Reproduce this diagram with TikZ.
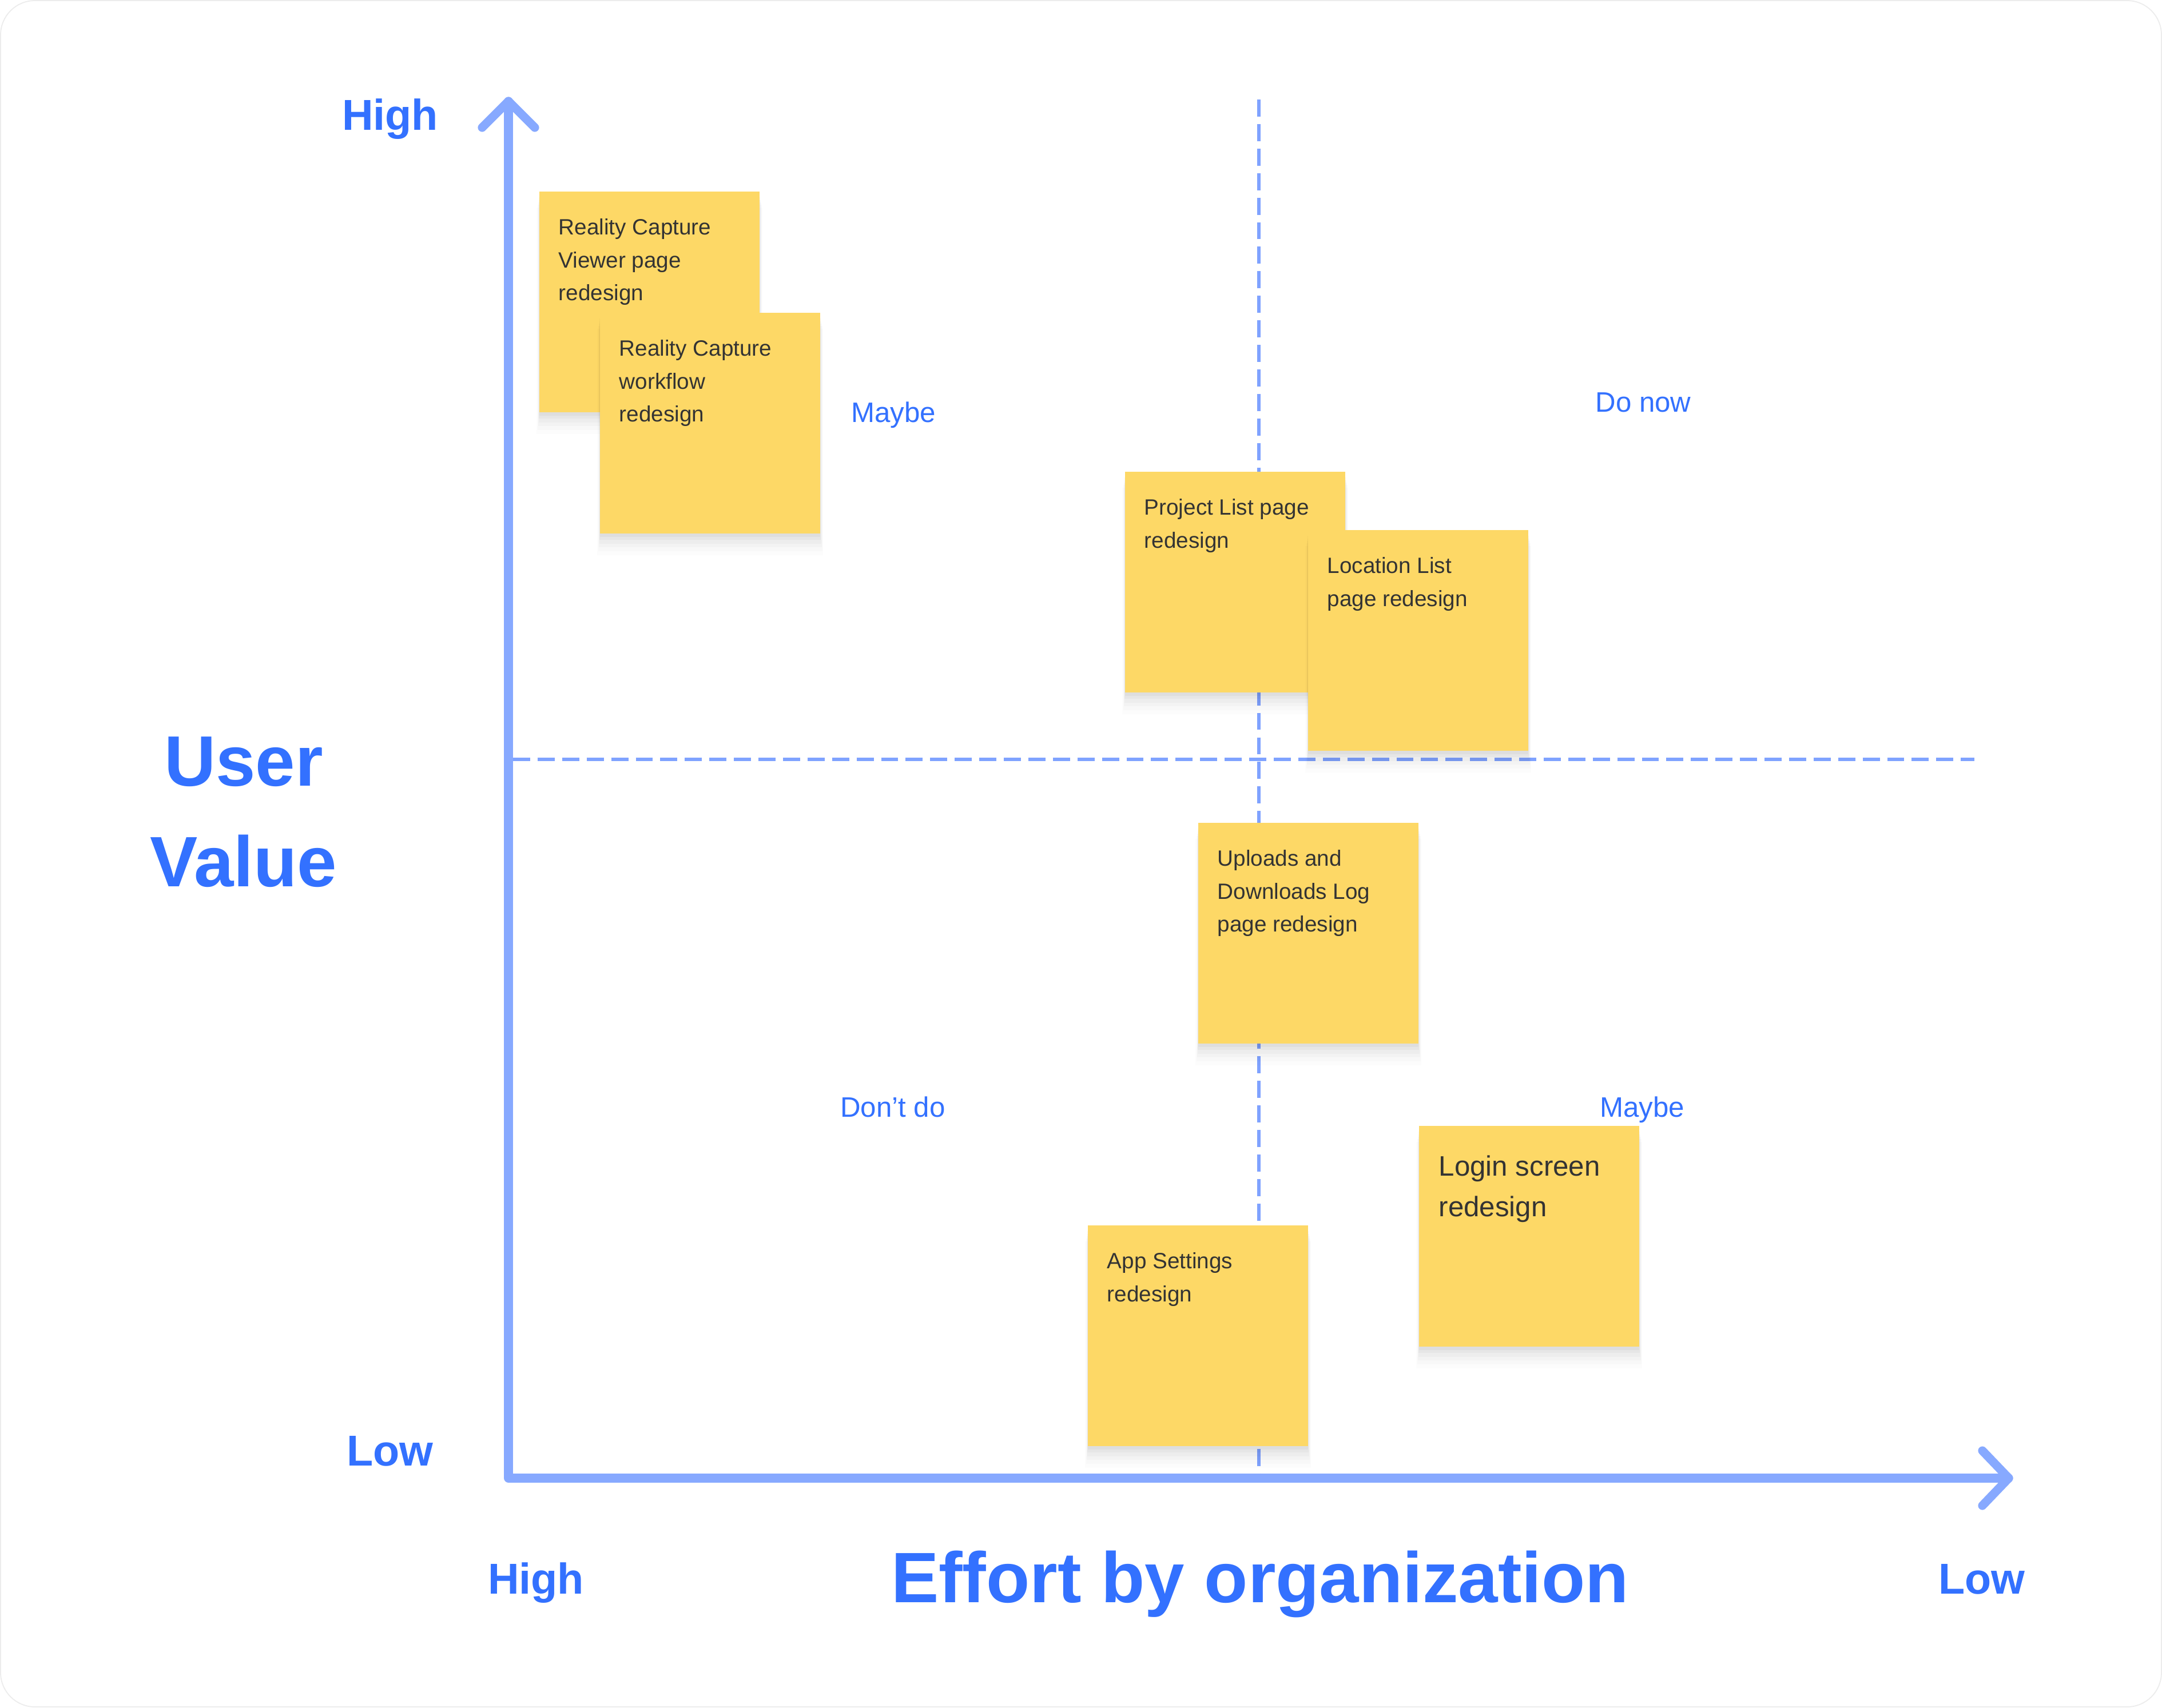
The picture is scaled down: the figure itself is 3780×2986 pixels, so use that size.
\documentclass[tikz,border=0pt]{standalone}
\usepackage{fontspec}
\setmainfont{Liberation Sans}
\usetikzlibrary{shadows}
\definecolor{axisblue}{HTML}{87A9FF}
\definecolor{dashblue}{HTML}{7FA2FF}
\definecolor{textblue}{HTML}{3371FF}
\definecolor{stickyfill}{HTML}{FDD866}
\definecolor{notegray}{HTML}{333333}
\definecolor{frame}{HTML}{ECECEC}
\begin{document}
\begin{tikzpicture}[x=0.01cm,y=-0.01cm,
  axisline/.style={draw=axisblue, line width=4.3pt, line cap=round, line join=round},
  quadline/.style={draw=dashblue, line width=1.7pt, dash pattern=on 8.5pt off 3.7pt},
  axislbl/.style={text=textblue, font=\fontsize{21.5pt}{26pt}\selectfont\bfseries, inner sep=0, anchor=base},
  biglbl/.style={text=textblue, font=\fontsize{35.5pt}{50pt}\selectfont\bfseries, inner sep=0},
  quadlbl/.style={text=textblue, font=\fontsize{14pt}{17pt}\selectfont, inner sep=0, anchor=base},
  stickynote/.style={fill=stickyfill, minimum width=3.85cm, minimum height=3.86cm, inner sep=0, outer sep=0, anchor=north west,
    general shadow={fill=black, opacity=0.012, shadow yshift=-9pt, shadow scale=1.025},
    general shadow={fill=black, opacity=0.015, shadow yshift=-7.5pt, shadow scale=1.018},
    general shadow={fill=black, opacity=0.018, shadow yshift=-6pt, shadow scale=1.012},
    general shadow={fill=black, opacity=0.022, shadow yshift=-4.5pt, shadow scale=1.007},
    general shadow={fill=black, opacity=0.026, shadow yshift=-3pt, shadow scale=1.003},
    general shadow={fill=black, opacity=0.03, shadow yshift=-1.5pt}},
  notetxt/.style={text=notegray, font=\fontsize{11pt}{16.3pt}\selectfont, align=left, inner sep=0, anchor=north west},
  bignotetxt/.style={text=notegray, font=\fontsize{14pt}{20.2pt}\selectfont, align=left, inner sep=0, anchor=north west}
]
\useasboundingbox (0,0) rectangle (3780,2986);
\fill[white] (0,0) rectangle (3780,2986);
\draw[frame, line width=0.5pt, rounded corners=0.6cm] (1,1) rectangle (3779,2985);

% quadrant divider lines
\coordinate (vtop) at (2201,174);
\coordinate (vbot) at (2201,2583);
\coordinate (hleft) at (897,1328);
\coordinate (hright) at (3452,1328);
\draw[quadline] (vtop) -- (vbot);
\draw[quadline] (hleft) -- (hright);

% axes
\coordinate (ytip) at (889,177);
\coordinate (origin) at (889,2585);
\coordinate (xtip) at (3512,2585);
\draw[axisline] (ytip) -- (origin) -- (xtip);
\draw[axisline] ([xshift=-0.46cm,yshift=-0.46cm]ytip) -- (ytip) -- ([xshift=0.46cm,yshift=-0.46cm]ytip);
\draw[axisline] ([xshift=-0.46cm,yshift=0.48cm]xtip) -- (xtip) -- ([xshift=-0.46cm,yshift=-0.48cm]xtip);

% axis labels
\node[axislbl] (yhigh) at (682,227) {High};
\node[axislbl] (ylow) at (682,2563) {Low};
\node[axislbl] (xhigh) at (937,2787) {High};
\node[axislbl] (xlow) at (3465,2787) {Low};
\node[biglbl, anchor=base] (xtitle) at (2203,2802) {Effort by organization};
\node[biglbl, align=center, anchor=north] (ytitle) at (426,1288) {User\\Value};

% quadrant labels
\node[quadlbl] (q1) at (1562,738) {Maybe};
\node[quadlbl] (q2) at (2873,720) {Do now};
\node[quadlbl] (q3) at (1561,1953) {Don’t do};
\node[quadlbl] (q4) at (2871,1953) {Maybe};

% sticky notes
\node[stickynote] (s1) at (943,335) {};
\node[notetxt] (t1) at ([xshift=0.33cm,yshift=-0.47cm]s1.north west) {Reality Capture\\Viewer page\\redesign};
\node[stickynote] (s2) at (1049,547) {};
\node[notetxt] (t2) at ([xshift=0.33cm,yshift=-0.47cm]s2.north west) {Reality Capture\\workflow\\redesign};
\node[stickynote] (s3) at (1967,825) {};
\node[notetxt] (t3) at ([xshift=0.33cm,yshift=-0.47cm]s3.north west) {Project List page\\redesign};
\node[stickynote] (s4) at (2287,927) {};
\node[notetxt] (t4) at ([xshift=0.33cm,yshift=-0.47cm]s4.north west) {Location List\\page redesign};
\node[stickynote] (s5) at (2095,1439) {};
\node[notetxt] (t5) at ([xshift=0.33cm,yshift=-0.47cm]s5.north west) {Uploads and\\Downloads Log\\page redesign};
\node[stickynote] (s6) at (1902,2143) {};
\node[notetxt] (t6) at ([xshift=0.33cm,yshift=-0.47cm]s6.north west) {App Settings\\redesign};
\node[stickynote] (s7) at (2481,1969) {};
\node[bignotetxt] (t7) at ([xshift=0.34cm,yshift=-0.51cm]s7.north west) {Login screen\\redesign};
\end{tikzpicture}
\end{document}
